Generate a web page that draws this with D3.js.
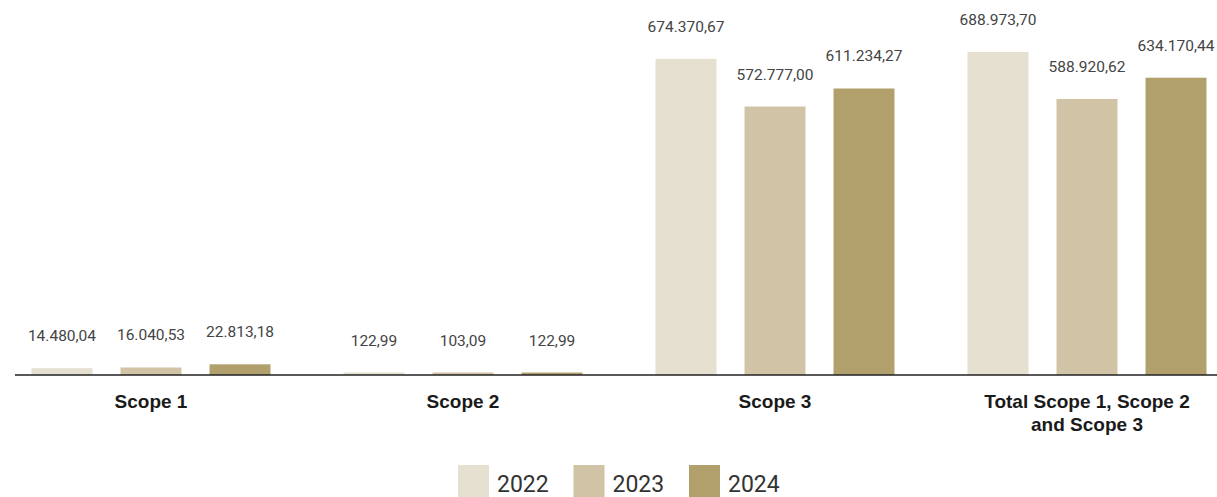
<!DOCTYPE html>
<html>
<head>
<meta charset="utf-8">
<script src="https://cdn.jsdelivr.net/npm/d3@7/dist/d3.min.js"></script>
<style>
  html, body { margin: 0; padding: 0; background: #fff; }
  svg { display: block; font-family: Roboto, "Noto Sans", sans-serif; }
</style>
</head>
<body>
<svg id="chart" width="1217" height="497"></svg>
<script>
// Emissions by scope (tCO2e)
const categories = ["Scope 1", "Scope 2", "Scope 3", "Total Scope 1, Scope 2 and Scope 3"];
const categoryLines = [["Scope 1"], ["Scope 2"], ["Scope 3"], ["Total Scope 1, Scope 2", "and Scope 3"]];
const years = ["2022", "2023", "2024"];
const values2022 = [14480.04, 122.99, 674370.67, 688973.70];
const values2023 = [16040.53, 103.09, 572777.00, 588920.62];
const values2024 = [22813.18, 122.99, 611234.27, 634170.44];
const yearColors = ["#e6e0d1", "#d1c4a6", "#b2a06c"];

const seriesByYear = [values2022, values2023, values2024];

const svg = d3.select("#chart");
const baseY = 375;

const x0 = d3.scaleBand().domain(categories).range([-5, 1243]).paddingInner(0).paddingOuter(0);
const x1 = d3.scaleBand().domain(years).range([0, x0.bandwidth()]).paddingInner(0.315).paddingOuter(0.41);
const y = d3.scaleLinear().domain([0, 800000]).range([baseY, 0]);
const color = d3.scaleOrdinal().domain(years).range(yearColors);

// Number format with "." thousands and "," decimals
const locale = d3.formatLocale({ decimal: ",", thousands: ".", grouping: [3], currency: ["", ""] });
const fmt = locale.format(",.2f");

const rows = [];
categories.forEach((c, i) => {
  years.forEach((yr, j) => rows.push({ cat: c, year: yr, value: seriesByYear[j][i] }));
});

const g = svg.append("g");

g.selectAll("rect.bar")
  .data(rows)
  .join("rect")
  .attr("class", "bar")
  .attr("x", d => x0(d.cat) + x1(d.year))
  .attr("width", x1.bandwidth())
  .attr("y", d => y(d.value))
  .attr("height", d => Math.max(2.5, baseY - y(d.value)))
  .attr("transform", d => baseY - y(d.value) < 2.5 ? `translate(0,${-(2.5 - (baseY - y(d.value)))})` : null)
  .attr("fill", d => color(d.year));

g.selectAll("text.val")
  .data(rows)
  .join("text")
  .attr("class", "val")
  .attr("x", d => x0(d.cat) + x1(d.year) + x1.bandwidth() / 2)
  .attr("y", d => Math.min(y(d.value), baseY - 2) - 27)
  .attr("text-anchor", "middle")
  .attr("font-size", 15.5)
  .attr("fill", "#444")
  .text(d => fmt(d.value));

// Baseline axis
const xAxis = d3.axisBottom(x0).tickSize(0).tickFormat("");
const axisG = svg.append("g").attr("transform", `translate(0,${baseY})`).call(xAxis);
axisG.select(".domain").remove();
axisG.append("line")
  .attr("x1", 15).attr("x2", 1217)
  .attr("stroke", "#222").attr("stroke-width", 1.3);

// Category labels
categories.forEach((c, i) => {
  const t = axisG.append("text")
    .attr("x", x0(c) + x0.bandwidth() / 2)
    .attr("y", 33)
    .attr("text-anchor", "middle")
    .attr("font-size", 19)
    .attr("font-weight", "bold")
    .attr("fill", "#1a1a1a");
  categoryLines[i].forEach((line, k) => {
    t.append("tspan")
      .attr("x", x0(c) + x0.bandwidth() / 2)
      .attr("dy", k === 0 ? 0 : 23)
      .text(line);
  });
});

// Legend
const legend = svg.append("g").attr("transform", "translate(458,465)");
const items = legend.selectAll("g").data(years).join("g")
  .attr("transform", (d, i) => `translate(${i * 115.5},0)`);
items.append("rect").attr("width", 31).attr("height", 32).attr("fill", d => color(d));
items.append("text")
  .attr("x", 39).attr("y", 27)
  .attr("font-size", 23)
  .attr("fill", "#333")
  .text(d => d);
</script>
</body>
</html>
